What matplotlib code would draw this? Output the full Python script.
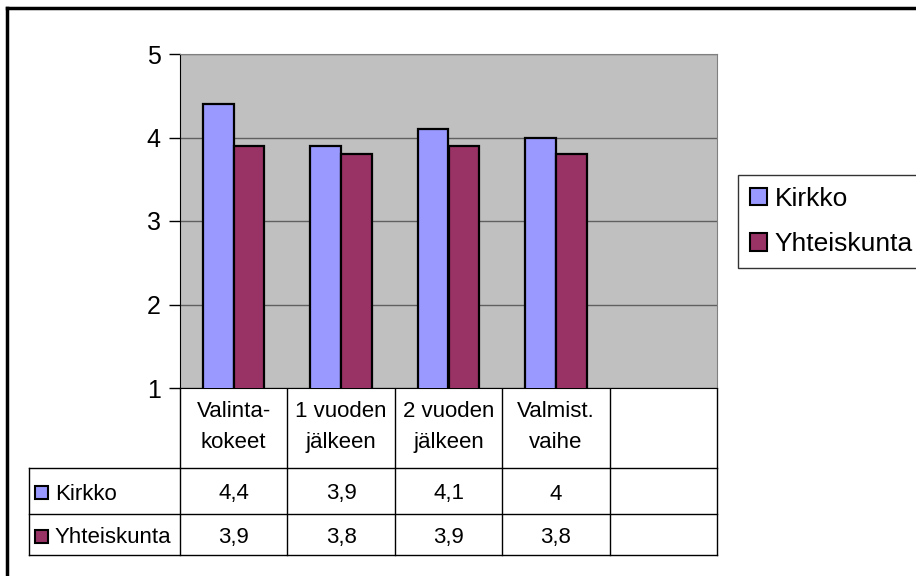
import matplotlib.pyplot as plt
from matplotlib.patches import Patch, Rectangle
from matplotlib.transforms import blended_transform_factory

plt.rcParams['font.family'] = ['Liberation Sans', 'DejaVu Sans']

# --- data ---
categories = ["Valinta-\nkokeet", "1 vuoden\njälkeen", "2 vuoden\njälkeen", "Valmist.\nvaihe", ""]
series_names = ["Kirkko", "Yhteiskunta"]
kirkko = [4.4, 3.9, 4.1, 4.0]
yhteiskunta = [3.9, 3.8, 3.9, 3.8]
kirkko_labels = ["4,4", "3,9", "4,1", "4", ""]
yhteiskunta_labels = ["3,9", "3,8", "3,9", "3,8", ""]
yticks = [1, 2, 3, 4, 5]

colors = ["#9999FF", "#993366"]

W, H = 916, 576
fig = plt.figure(figsize=(W / 100, H / 100), dpi=100)

# overlay in pixel coordinates for frame and table lines
over = fig.add_axes([0, 0, 1, 1])
over.set_xlim(0, W)
over.set_ylim(H, 0)
over.axis("off")

# plot area (pixels: x 180..717, y 54..388)
px0, px1, py0, py1 = 180, 717, 54, 388
ax = fig.add_axes([px0 / W, 1 - py1 / H, (px1 - px0) / W, (py1 - py0) / H])
ax.set_facecolor("#C0C0C0")
ax.set_zorder(2)

bw = 1 / 3.5  # Excel gap width 150%
x = range(len(kirkko))
ax.bar([i - bw / 2 for i in x], kirkko, width=bw, bottom=0, color=colors[0],
       edgecolor="black", linewidth=1.6, zorder=3)
ax.bar([i + bw / 2 for i in x], yhteiskunta, width=bw, bottom=0, color=colors[1],
       edgecolor="black", linewidth=1.6, zorder=3)

ax.set_xlim(-0.5, len(categories) - 0.5)
ax.set_ylim(1, 5)
ax.set_yticks(yticks)
ax.set_yticklabels([str(t) for t in yticks], fontsize=18)
ax.tick_params(axis="y", direction="out", length=8, width=1, pad=6)
ax.set_xticks([])
ax.yaxis.grid(True, color="#606060", linewidth=1)
ax.set_axisbelow(True)
for s in ["top", "right"]:
    ax.spines[s].set_color("#808080")
ax.spines["left"].set_color("black")
ax.spines["bottom"].set_color("black")

# outer chart border (right and bottom fall outside the picture)
over.plot([7, 7], [8, H + 5], color="black", lw=2.5)
over.plot([7, W + 5], [8, 8], color="black", lw=2.5)

# --- data table ---
tr = blended_transform_factory(ax.transData, over.transData)
row_top, row1, row2, row_bot = 388, 468, 514, 555
tab_left = 29
n = len(categories)
bounds = [i - 0.5 for i in range(n + 1)]

for b in bounds:
    over.plot([b, b], [row_top, row_bot], color="black", lw=1, transform=tr)
for yy in [row1, row2, row_bot]:
    over.plot([tab_left, px1], [yy, yy], color="black", lw=1)
over.plot([tab_left, tab_left], [row1, row_bot], color="black", lw=1)

fs = 16
for i, cat in enumerate(categories):
    over.text(i, (row_top + row1) / 2 - 1, cat, transform=tr, ha="center", va="center",
              fontsize=fs, linespacing=1.65)
    over.text(i, (row1 + row2) / 2 + 3, kirkko_labels[i], transform=tr,
              ha="center", va="center", fontsize=fs)
    over.text(i, (row2 + row_bot) / 2 + 3, yhteiskunta_labels[i], transform=tr,
              ha="center", va="center", fontsize=fs)

for name, col, (a, b) in zip(series_names, colors, [(row1, row2), (row2, row_bot)]):
    yc = (a + b) / 2 + 2
    over.add_patch(Rectangle((35, yc - 7), 13, 13, facecolor=col, edgecolor="black", lw=1.5))
    over.text(55, yc + 1, name, ha="left", va="center", fontsize=fs)

# legend
handles = [Patch(facecolor=c, edgecolor="black", linewidth=1.5, label=n_)
           for c, n_ in zip(colors, series_names)]
leg = fig.legend(handles=handles, loc="upper left", bbox_to_anchor=(738 / W, 1 - 175 / H),
                 fontsize=19, frameon=True, fancybox=False, handlelength=0.65,
                 handleheight=0.65, handletextpad=0.3, borderpad=0.45, labelspacing=0.8,
                 borderaxespad=0)
leg.get_frame().set_edgecolor("black")
leg.get_frame().set_linewidth(1)

fig.savefig("out.png", dpi=100)
